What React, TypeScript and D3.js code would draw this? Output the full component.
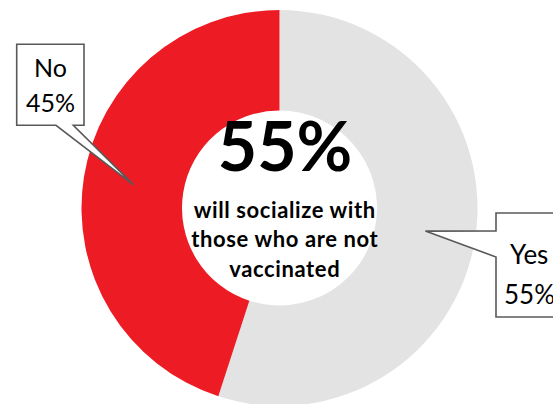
import React from "react";
import * as d3 from "d3";

const categories = ["Yes", "No"];
const values = [55, 45];
const colors = ["#E3E3E3", "#ED1C24"];
const labelLines = [["Yes", "55%"], ["No", "45%"]];
const centerValue = "55%";
const centerLines = ["will socialize with", "those who are not", "vaccinated"];

const W = 553;
const H = 404;
const cx = 279.5;
const cy = 208;
const outerR = 198;
const innerR = 97.5;
const FONT = "Lato, 'Open Sans', sans-serif";

export default function App() {
  const pie = d3.pie<number>().sort(null).startAngle(0).endAngle(2 * Math.PI);
  const arcs = pie(values);
  const arc = d3.arc<d3.PieArcDatum<number>>().innerRadius(innerR).outerRadius(outerR);
  const centroids = arcs.map((a) => arc.centroid(a));

  const yesTip = centroids[0];
  const noTip = centroids[1];
  const yesBox = { x: 496, y: 213, w: 80, h: 104, py1: 231, py2: 257 };
  const noBox = { x: 16.7, y: 44.3, w: 67.3, h: 81, px1: 56, px2: 73.3 };

  const yesPath = `M${yesBox.x},${yesBox.y} L${yesBox.x + yesBox.w},${yesBox.y} L${yesBox.x + yesBox.w},${yesBox.y + yesBox.h} L${yesBox.x},${yesBox.y + yesBox.h} L${yesBox.x},${yesBox.py2} L${cx + yesTip[0]},${cy + yesTip[1]} L${yesBox.x},${yesBox.py1} Z`;
  const noPath = `M${noBox.x},${noBox.y} L${noBox.x + noBox.w},${noBox.y} L${noBox.x + noBox.w},${noBox.y + noBox.h} L${noBox.px2},${noBox.y + noBox.h} L${cx + noTip[0]},${cy + noTip[1]} L${noBox.px1},${noBox.y + noBox.h} L${noBox.x},${noBox.y + noBox.h} Z`;

  return (
    <svg
      width={W}
      height={H}
      style={{ position: "absolute", left: 0, top: 0, background: "#fff" }}
      fontFamily={FONT}
    >
      <g transform={`translate(${cx},${cy})`}>
        {arcs.map((a, i) => (
          <path key={categories[i]} d={arc(a) || ""} fill={colors[i]} />
        ))}
      </g>
      <text x={285} y={171} textAnchor="middle" fontSize={68} fontWeight={700} fill="#000">
        {centerValue}
      </text>
      {centerLines.map((t, i) => (
        <text
          key={t}
          x={284.8}
          y={217.5 + i * 29.5}
          textAnchor="middle"
          fontSize={22}
          fontWeight={700}
          letterSpacing={0.6}
          fill="#000"
        >
          {t}
        </text>
      ))}
      <path d={noPath} fill="#fff" stroke="#595959" strokeWidth={1.6} strokeLinejoin="miter" />
      <path d={yesPath} fill="#fff" stroke="#595959" strokeWidth={1.6} strokeLinejoin="miter" />
      {labelLines[1].map((t, i) => (
        <text key={t} x={50.5} y={77 + i * 35} textAnchor="middle" fontSize={25} fill="#000">
          {t}
        </text>
      ))}
      {labelLines[0].map((t, i) => (
        <text key={t} x={i === 0 ? 510 : 504} y={264 + i * 40} textAnchor="start" fontSize={26} fill="#000">
          {t}
        </text>
      ))}
    </svg>
  );
}
